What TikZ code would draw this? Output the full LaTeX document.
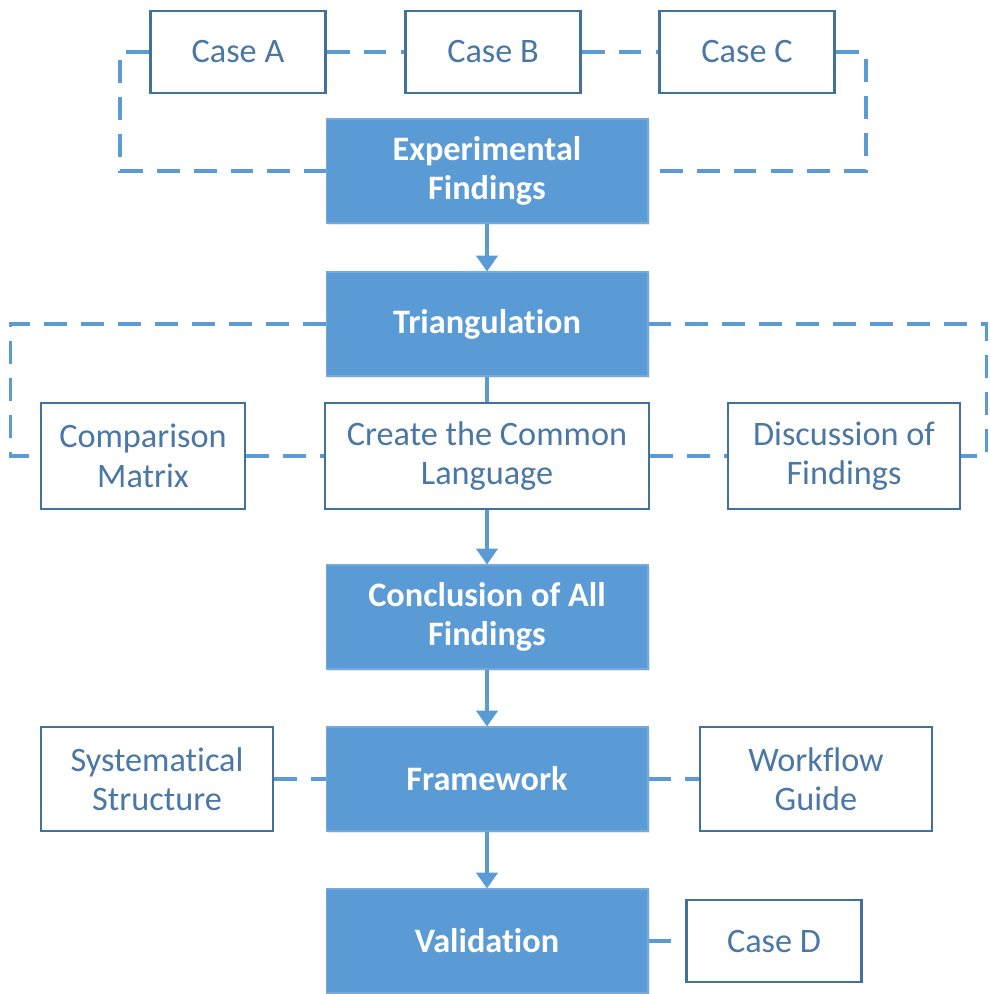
\documentclass[tikz,border=0pt]{standalone}
\usepackage{fontspec}
\setmainfont[Ligatures=NoCommon, Contextuals=NoAlternate]{Carlito}
\usepackage{tikz}
\usetikzlibrary{arrows.meta}
\usetikzlibrary{shadows}

\definecolor{boxblue}{HTML}{5B9BD5}
\definecolor{edgeblue}{HTML}{41719C}
\definecolor{textblue}{HTML}{4A77A6}

\tikzset{
	stage/.style = {draw=boxblue!85!white, line width=0.6pt, fill=boxblue,
		text=white, font=\fontsize{19.5}{22.5}\selectfont\bfseries,
		align=center, minimum width=6.44cm, minimum height=2.08cm,
		drop shadow={opacity=0.18, shadow xshift=1.2pt, shadow yshift=-1.2pt}},
	side/.style = {draw=edgeblue, line width=1.4pt, fill=white,
		text=textblue, font=\fontsize{19.5}{22.5}\selectfont,
		align=center, minimum height=2.12cm},
	dashline/.style = {draw=boxblue, line width=2.1pt,
		dash pattern=on 13pt off 8pt},
	flow/.style = {draw=boxblue, line width=2.1pt,
		-{Triangle[width=12pt,length=9pt]}}
}

\begin{document}
\begin{tikzpicture}[x=0.02cm, y=-0.02cm]
	\useasboundingbox (0,0) rectangle (990,994);

	% the three cases on top
	\node [side, minimum width=3.5cm, minimum height=1.64cm] (caseA) at (238,52) {Case A};
	\node [side, minimum width=3.5cm, minimum height=1.64cm] (caseB) at (493,52) {Case B};
	\node [side, minimum width=3.5cm, minimum height=1.64cm] (caseC) at (747,52) {Case C};

	% main column
	\node [stage] (expF) at (487,171) {Experimental\\Findings};
	\node [stage] (tri) at (487,324) {Triangulation};
	\node [side, minimum width=6.48cm] (common) at (487,456) {Create the Common\\Language};
	\node [stage] (concl) at (487,617) {Conclusion of All\\Findings};
	\node [stage] (frame) at (487,779) {Framework};
	\node [stage] (valid) at (487,941) {Validation};

	% boxes beside the column
	\node [side, minimum width=4.08cm] (matrix) at (143,456) {Comparison\\Matrix};
	\node [side, minimum width=4.64cm] (discuss) at (844,456) {Discussion of\\Findings};
	\node [side, minimum width=4.64cm, minimum height=2.08cm] (syst) at (157,779) {Systematical\\Structure};
	\node [side, minimum width=4.64cm, minimum height=2.08cm] (guide) at (816,779) {Workflow\\Guide};
	\node [side, minimum width=3.5cm, minimum height=1.64cm] (caseD) at (774,941) {Case D};

	% dashed links
	\draw [dashline] (caseA.east) -- (caseB.west);
	\draw [dashline] (caseB.east) -- (caseC.west);
	\draw [dashline] (caseA.west) -- ++(-29,0) |- (expF.west);
	\draw [dashline] (caseC.east) -- ++(30,0) |- (expF.east);

	\draw [dashline] (tri.west) -- ++(-315,0) |- (matrix.west);
	\draw [dashline] (tri.east) -- ++(338,0) |- (discuss.east);
	\draw [dashline] (matrix.east) -- (common.west);
	\draw [dashline] (common.east) -- (discuss.west);

	\draw [dashline] (syst.east) -- (frame.west);
	\draw [dashline] (frame.east) -- (guide.west);
	\draw [dashline] (valid.east) -- (caseD.west);

	% solid flow down the column
	\draw [flow] (expF.south) -- (tri.north);
	\draw [draw=boxblue, line width=2.1pt] (tri.south) -- (common.north);
	\draw [flow] (common.south) -- (concl.north);
	\draw [flow] (concl.south) -- (frame.north);
	\draw [flow] (frame.south) -- (valid.north);
\end{tikzpicture}
\end{document}
